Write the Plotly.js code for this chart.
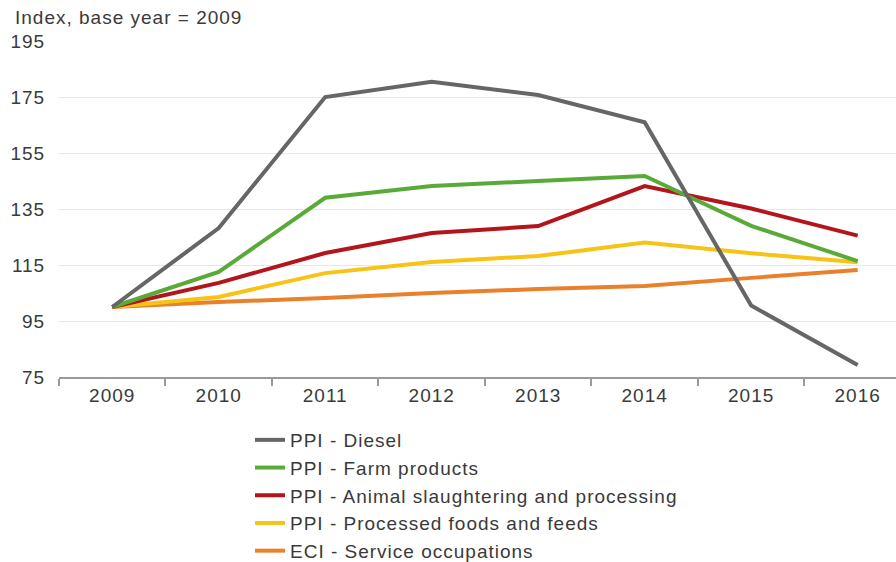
<!DOCTYPE html>
<html>
<head>
<meta charset="utf-8">
<script src="https://cdn.plot.ly/plotly-3.0.1.min.js"></script>
<style>
html,body{margin:0;padding:0;background:#fff;}
#chart{width:896px;height:562px;}
#chart text{letter-spacing:1px;}
#chart .legend .scrollbox{clip-path:none !important;}
</style>
</head>
<body>
<div id="chart"></div>
<script>
const years = ["2009","2010","2011","2012","2013","2014","2015","2016"];
const diesel = [100, 128.2, 175, 180.4, 175.7, 166, 100.5, 79.3];
const farm = [100, 112.5, 139, 143.2, 145, 146.8, 129, 116.4];
const animal = [100, 108.6, 119.3, 126.4, 128.9, 143.2, 135.2, 125.5];
const processed = [100, 103.6, 112.1, 116.1, 118.2, 123, 119.2, 116];
const eci = [100, 101.8, 103.2, 105, 106.4, 107.5, 110.4, 113.2];
const yTicks = [75, 95, 115, 135, 155, 175, 195];

const FONT = "Liberation Sans, Arial, sans-serif";
const TXT = "#3a3a3a";
const FS = 19;
function tr(name, y, color) {
  return {x: years, y: y, name: name, type: "scatter", mode: "lines",
          line: {color: color, width: 4}, hoverinfo: "skip"};
}
const data = [
  tr("ECI - Service occupations", eci, "#e8802c"),
  tr("PPI - Processed foods and feeds", processed, "#f7c316"),
  tr("PPI - Animal slaughtering and processing", animal, "#b3151d"),
  tr("PPI - Farm products", farm, "#5aaa3a"),
  tr("PPI - Diesel", diesel, "#666666")
];
const layout = {
  width: 896, height: 562,
  margin: {l: 59, r: 0, t: 41, b: 185, autoexpand: false},
  paper_bgcolor: "#fff", plot_bgcolor: "#fff",
  font: {family: FONT, size: FS, color: TXT},
  showlegend: true,
  title: {text: "Index, base year = 2009", x: 15/896, xanchor: "left", xref: "container",
          y: 1 - 17/562, yanchor: "middle", yref: "container",
          font: {family: FONT, size: FS, color: TXT}},
  xaxis: {type: "category", range: [-0.5, 7.36], showgrid: false, zeroline: false,
          showline: true, linecolor: "#9a9a9a", linewidth: 2,
          ticks: "outside", tickson: "boundaries", ticklen: 7, tickcolor: "#9a9a9a", tickwidth: 2,
          tickfont: {family: FONT, size: FS, color: TXT}, fixedrange: true},
  yaxis: {range: [75, 195], tickvals: yTicks, ticktext: yTicks.map(String),
          showgrid: true, gridcolor: "#e6e6e6", gridwidth: 1, zeroline: false,
          showline: false, ticks: "outside", ticklen: 9, tickcolor: "rgba(0,0,0,0)",
          tickfont: {family: FONT, size: FS, color: TXT}, fixedrange: true},
  legend: {x: (250-59)/837, xanchor: "left", y: (377-421)/336, yanchor: "top",
           traceorder: "reversed", font: {family: FONT, size: FS, color: TXT},
           bgcolor: "rgba(0,0,0,0)", itemwidth: 30}
};
Plotly.newPlot("chart", data, layout, {displayModeBar: false, staticPlot: true});
</script>
</body>
</html>
